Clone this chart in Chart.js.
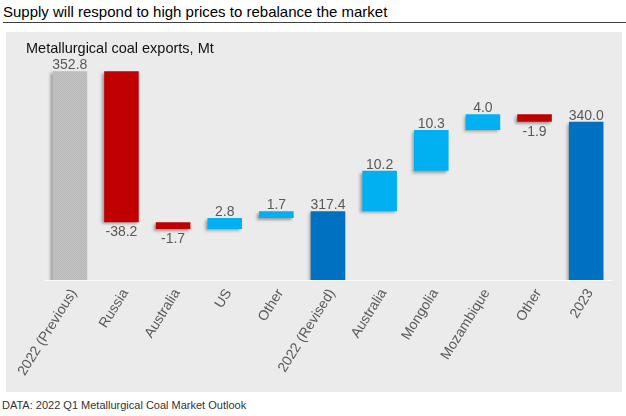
<!DOCTYPE html>
<html>
<head>
<meta charset="utf-8">
<script src="https://cdn.jsdelivr.net/npm/chart.js@4"></script>
<style>
  html, body { margin:0; padding:0; background:#fff; width:626px; height:416px; overflow:hidden; font-family:"Liberation Sans", Arial, sans-serif; }
  #title { position:absolute; left:3px; top:3px; font-size:15px; color:#000; white-space:nowrap; }
  #rule { position:absolute; left:3px; top:22px; width:623px; height:0; border-top:1px solid #404040; }
  #panel { position:absolute; left:6px; top:32px; width:616px; height:360px; background:#ebebeb; }
  #sub { position:absolute; left:20px; top:8px; font-size:14.5px; color:#111; white-space:nowrap; z-index:2; }
  #wrap { position:absolute; left:0; top:0; width:616px; height:360px; }
  #foot { position:absolute; left:2px; top:399px; font-size:11px; color:#333; white-space:nowrap; }
</style>
</head>
<body>
<div id="title">Supply will respond to high prices to rebalance the market</div>
<div id="rule"></div>
<div id="panel">
  <div id="wrap"><canvas id="c" width="616" height="360" style="width:616px;height:360px"></canvas></div>
  <div id="sub">Metallurgical coal exports, Mt</div>
</div>
<div id="foot">DATA: 2022 Q1 Metallurgical Coal Market Outlook</div>
<script>
const categories = ['2022 (Previous)','Russia','Australia','US','Other','2022 (Revised)','Australia','Mongolia','Mozambique','Other','2023'];
const values = [352.8, -38.2, -1.7, 2.8, 1.7, 317.4, 10.2, 10.3, 4.0, -1.9, 340.0];
const kinds = ['start','change','change','change','change','total','change','change','change','change','total'];
const yMin = 300, yMax = 360;

// waterfall ranges built from the values
const ranges = [];
let running = 0;
values.forEach((v, i) => {
  if (kinds[i] === 'change') {
    const a = running, b = running + v;
    ranges.push([Math.min(a, b), Math.max(a, b)]);
    running = b;
  } else {
    ranges.push([0, v]);
    running = v;
  }
});

// grey dotted texture for the previous-total bar
const pc = document.createElement('canvas');
pc.width = 2; pc.height = 2;
const px = pc.getContext('2d');
px.fillStyle = '#c4c4c4'; px.fillRect(0,0,2,2);
px.fillStyle = '#b8b8b8'; px.fillRect(0,0,1,1); px.fillRect(1,1,1,1);
const greyPattern = px.createPattern(pc, 'repeat');

const colors = values.map((v, i) => {
  if (kinds[i] === 'start') return greyPattern;
  if (kinds[i] === 'total') return '#0070c0';
  return v < 0 ? '#c00000' : '#00b0f0';
});

const shadowPlugin = {
  id: 'shadow',
  beforeDatasetsDraw(chart) {
    const ctx = chart.ctx;
    ctx.save();
    ctx.shadowColor = 'rgba(0,0,0,0.35)';
    ctx.shadowBlur = 3;
    ctx.shadowOffsetX = -2;
    ctx.shadowOffsetY = 2;
  },
  afterDatasetsDraw(chart) { chart.ctx.restore(); }
};

const labelPlugin = {
  id: 'vlabels',
  afterDraw(chart) {
    const ctx = chart.ctx;
    const meta = chart.getDatasetMeta(0);
    const ys = chart.scales.y;
    ctx.save();
    ctx.font = '14px "Liberation Sans", Arial, sans-serif';
    ctx.fillStyle = '#595959';
    ctx.textAlign = 'center';
    meta.data.forEach((bar, i) => {
      const v = values[i];
      const txt = v.toFixed(1);
      const r = ranges[i];
      if (kinds[i] === 'change' && v < 0) {
        ctx.textBaseline = 'top';
        ctx.fillText(txt, bar.x, ys.getPixelForValue(r[0]) + 3);
      } else {
        ctx.textBaseline = 'bottom';
        ctx.fillText(txt, bar.x, ys.getPixelForValue(r[1]) + 1);
      }
    });
    ctx.restore();
  }
};

new Chart(document.getElementById('c'), {
  type: 'bar',
  data: {
    labels: categories,
    datasets: [{
      data: ranges,
      backgroundColor: colors,
      borderWidth: 0,
      categoryPercentage: 1.0,
      barPercentage: 0.67,
      borderSkipped: false
    }]
  },
  options: {
    responsive: false,
    animation: false,
    devicePixelRatio: 1,
    layout: { padding: { left: 38, right: 10, top: 10.7, bottom: 0 } },
    plugins: { legend: { display: false }, tooltip: { enabled: false }, title: { display: false } },
    scales: {
      y: { display: false, min: yMin, max: yMax },
      x: {
        afterFit(scale) { scale.height = 112; },
        grid: { display: false, drawTicks: false },
        border: { display: true, color: 'rgba(255,255,255,0.75)', width: 1 },
        ticks: {
          minRotation: 58, maxRotation: 58, autoSkip: false, padding: 6, labelOffset: 4,
          color: '#595959',
          font: { family: '"Liberation Sans", Arial, sans-serif', size: 14 }
        }
      }
    }
  },
  plugins: [shadowPlugin, labelPlugin]
});
</script>
</body>
</html>
